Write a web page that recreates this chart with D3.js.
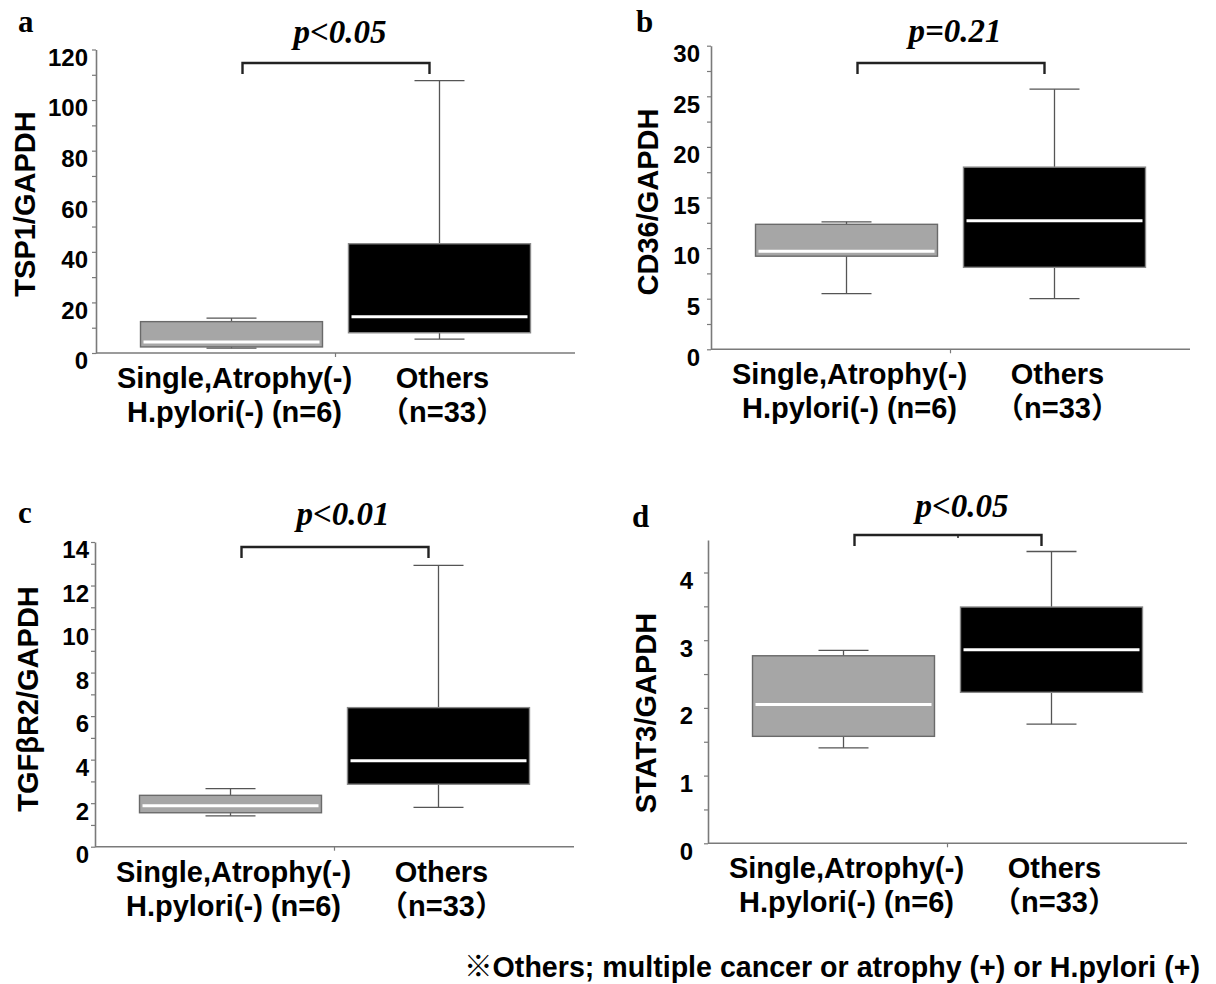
<!DOCTYPE html>
<html>
<head>
<meta charset="utf-8">
<script src="https://cdn.jsdelivr.net/npm/d3@7"></script>
<style>
body { margin: 0; background: #fff; }
svg text { font-family: "Liberation Sans", Arial, "Noto Sans CJK JP", sans-serif; font-weight: bold; fill: #000; }
svg text.serif { font-family: "Liberation Serif", "Times New Roman", serif; }
</style>
</head>
<body>
<svg id="fig" width="1216" height="984"></svg>
<script>
// groups (x categories)
const groupLine1 = ["Single,Atrophy(-)", "Others"];
const groupLine2 = ["H.pylori(-) (n=6)", "（n=33）"];
const groupFill = ["#a6a6a6", "#000000"];

// each box: [whisker low, q1, median, q3, whisker high]
const tsp1Stats   = [[1.9, 2.4, 4.3, 12.4, 13.8],     [5.5, 8.0, 14.3, 43.2, 107.7]];
const cd36Stats   = [[5.5, 9.2, 9.7, 12.35, 12.6],    [5.0, 8.1, 12.7, 18.0, 25.7]];
const tgfbr2Stats = [[1.42, 1.56, 1.88, 2.36, 2.67],  [1.81, 2.87, 3.95, 6.39, 12.93]];
const stat3Stats  = [[1.41, 1.58, 2.05, 2.77, 2.85],  [1.76, 2.23, 2.86, 3.49, 4.31]];

// y tick labels
const tsp1Ticks   = [0, 20, 40, 60, 80, 100, 120];
const cd36Ticks   = [0, 5, 10, 15, 20, 25, 30];
const tgfbr2Ticks = [0, 2, 4, 6, 8, 10, 12, 14];
const stat3Ticks  = [0, 1, 2, 3, 4];

const footnote = "※Others; multiple cancer or atrophy (+) or H.pylori (+)";

const panels = [
  { letter: "a", title: "TSP1/GAPDH", pval: "p<0.05", stats: tsp1Stats, ticks: tsp1Ticks, max: 120,
    ox: 96, top: 49.5, bottom: 353, letterXY: [18, 32], titleXY: [25, 204], pXY: [340, 43], brY: 63, gap: 4 },
  { letter: "b", title: "CD36/GAPDH", pval: "p=0.21", stats: cd36Stats, ticks: cd36Ticks, max: 30,
    ox: 711, top: 45.7, bottom: 349.3, letterXY: [636, 32], titleXY: [648, 202], pXY: [955, 42], brY: 63, gap: 7 },
  { letter: "c", title: "TGFβR2/GAPDH", pval: "p<0.01", stats: tgfbr2Stats, ticks: tgfbr2Ticks, max: 14,
    ox: 95, top: 542, bottom: 846.7, letterXY: [18, 523], titleXY: [28, 699], pXY: [343, 525], brY: 547, gap: 2 },
  { letter: "d", title: "STAT3/GAPDH", pval: "p<0.05", stats: stat3Stats, ticks: stat3Ticks, max: 4.48,
    ox: 708, top: 540, bottom: 843.3, letterXY: [632, 527], titleXY: [646, 713], pXY: [962, 517], brY: 535, gap: 11 }
];

const svg = d3.select("#fig");
const axisGrey = "#7a7a7a";

panels.forEach(p => {
  const g = svg.append("g");

  const x = d3.scaleBand()
    .domain(groupLine1)
    .range([p.ox, p.ox + 479])
    .paddingInner(0.125)
    .paddingOuter(0.214);
  const bw = x.bandwidth();
  const cx = d => x(d) + bw / 2;

  const y = d3.scaleLinear()
    .domain([0, p.max])
    .range([p.bottom, p.top]);

  // y axis, majors labelled, minor ticks halfway between
  const minors = d3.pairs(p.ticks, (a, b) => (a + b) / 2);
  const yAxis = g.append("g")
    .attr("transform", "translate(" + p.ox + ",0)")
    .call(d3.axisLeft(y)
      .tickValues(p.ticks.concat(minors))
      .tickSizeInner(4)
      .tickSizeOuter(0)
      .tickPadding(p.gap)
      .tickFormat(v => p.ticks.includes(v) ? v : ""));
  yAxis.attr("font-size", 24);
  yAxis.select(".domain").attr("stroke", axisGrey).attr("stroke-width", 1.6);
  yAxis.selectAll(".tick line").attr("stroke", axisGrey).attr("stroke-width", 1.2);
  yAxis.selectAll(".tick text").attr("dy", "0.66em");

  // x axis line with the divider tick
  const xr = x.range();
  g.append("line")
    .attr("x1", xr[0]).attr("x2", xr[1])
    .attr("y1", p.bottom).attr("y2", p.bottom)
    .attr("stroke", axisGrey).attr("stroke-width", 1.6);
  const mid = (cx(groupLine1[0]) + cx(groupLine1[1])) / 2;
  g.append("line")
    .attr("x1", mid).attr("x2", mid)
    .attr("y1", p.bottom).attr("y2", p.bottom + 4)
    .attr("stroke", axisGrey).attr("stroke-width", 1.2);

  // boxes
  const boxes = g.selectAll("g.box")
    .data(p.stats.map((s, i) => ({ grp: groupLine1[i], s: s, fill: groupFill[i] })))
    .enter().append("g").attr("class", "box");

  boxes.append("line")
    .attr("x1", d => cx(d.grp)).attr("x2", d => cx(d.grp))
    .attr("y1", d => y(d.s[0])).attr("y2", d => y(d.s[4]))
    .attr("stroke", "#555").attr("stroke-width", 1.3);
  [0, 4].forEach(k => {
    boxes.append("line")
      .attr("x1", d => cx(d.grp) - 25).attr("x2", d => cx(d.grp) + 25)
      .attr("y1", d => y(d.s[k])).attr("y2", d => y(d.s[k]))
      .attr("stroke", "#555").attr("stroke-width", 1.3);
  });
  boxes.append("rect")
    .attr("x", d => x(d.grp))
    .attr("y", d => y(d.s[3]))
    .attr("width", bw)
    .attr("height", d => y(d.s[1]) - y(d.s[3]))
    .attr("fill", d => d.fill)
    .attr("stroke", (d, i) => i == 0 ? "#6a6a6a" : "#888")
    .attr("stroke-width", 1.4);
  boxes.append("line")
    .attr("x1", d => x(d.grp) + 3).attr("x2", d => x(d.grp) + bw - 3)
    .attr("y1", d => y(d.s[2])).attr("y2", d => y(d.s[2]))
    .attr("stroke", "#fff").attr("stroke-width", 3);

  // x labels
  g.selectAll("text.xl1")
    .data(groupLine1).enter().append("text")
    .attr("class", "xl1")
    .attr("x", d => cx(d) + 3)
    .attr("y", p.bottom + 35)
    .attr("text-anchor", "middle")
    .attr("font-size", 29)
    .text(d => d);
  g.selectAll("text.xl2")
    .data(groupLine2).enter().append("text")
    .attr("class", "xl2")
    .attr("x", (d, i) => cx(groupLine1[i]) + 3)
    .attr("y", p.bottom + 69)
    .attr("text-anchor", "middle")
    .attr("font-size", 29)
    .text(d => d);

  // y title
  g.append("text")
    .attr("transform", "translate(" + p.titleXY[0] + "," + p.titleXY[1] + ") rotate(-90)")
    .attr("text-anchor", "middle")
    .attr("dy", "0.36em")
    .attr("font-size", 29)
    .text(p.title);

  // significance bracket
  const bx1 = cx(groupLine1[0]) + 11, bx2 = cx(groupLine1[1]) - 10;
  g.append("path")
    .attr("d", "M" + bx1 + "," + (p.brY + 11) + "V" + p.brY + "H" + bx2 + "V" + (p.brY + 11))
    .attr("fill", "none").attr("stroke", "#222").attr("stroke-width", 2.4);
  if (p.letter == "d") {
    g.append("line")
      .attr("x1", (bx1 + bx2) / 2 + 10).attr("x2", (bx1 + bx2) / 2 + 10)
      .attr("y1", p.brY).attr("y2", p.brY + 3)
      .attr("stroke", "#222").attr("stroke-width", 1.5);
  }
  g.append("text")
    .attr("class", "serif")
    .attr("x", p.pXY[0]).attr("y", p.pXY[1])
    .attr("text-anchor", "middle")
    .attr("font-size", 33)
    .attr("font-style", "italic")
    .text(p.pval);

  // panel letter
  g.append("text")
    .attr("class", "serif")
    .attr("x", p.letterXY[0]).attr("y", p.letterXY[1])
    .attr("font-size", 31)
    .text(p.letter);
});

svg.append("text")
  .attr("x", 464).attr("y", 977)
  .attr("font-size", 29)
  .attr("textLength", 736)
  .attr("lengthAdjust", "spacingAndGlyphs")
  .text(footnote);
</script>
</body>
</html>
